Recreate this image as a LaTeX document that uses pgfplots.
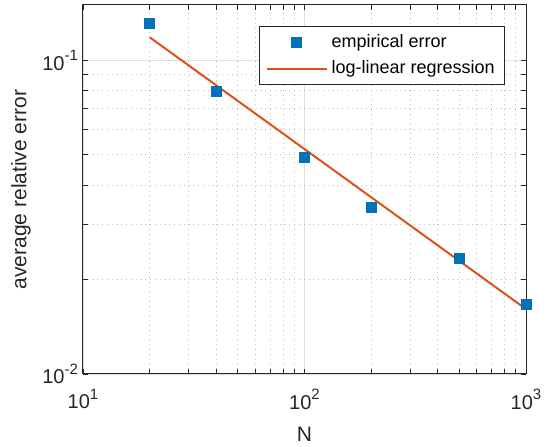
\documentclass[border=0pt]{standalone}
\usepackage{pgfplots}
\pgfplotsset{compat=1.18}
\usepackage{fontspec}
\setmainfont{Liberation Sans}
\usetikzlibrary{calc}

\definecolor{mblue}{RGB}{0,114,189}
\definecolor{morange}{RGB}{217,83,25}
\definecolor{maxis}{RGB}{38,38,38}
\newcommand{\pw}[2]{#1\raisebox{0.9ex}{\fontsize{7.5}{8}\selectfont #2}}

\begin{document}
\begin{tikzpicture}
\begin{loglogaxis}[
  scale only axis,
  width=221.5pt,
  height=184.5pt,
  xmin=10, xmax=1000,
  ymin=0.01, ymax=0.15,
  xtick={10,100,1000},
  xticklabels={\pw{10}{1},\pw{10}{2},\pw{10}{3}},
  ytick={0.01,0.1},
  yticklabels={\pw{10}{-2},\pw{10}{-1}},
  minor xtick={20,30,40,50,60,70,80,90,200,300,400,500,600,700,800,900},
  minor ytick={0.02,0.03,0.04,0.05,0.06,0.07,0.08,0.09},
  tick align=inside,
  major tick length=2.5pt,
  minor tick length=2.5pt,
  axis line style={maxis, line width=0.5pt},
  every tick/.style={maxis, line width=0.4pt},
  grid=both,
  major grid style={gray!25, line width=0.4pt},
  minor grid style={gray!50, dotted, line width=0.4pt},
  tick label style={font=\fontsize{10}{12}\selectfont, text=maxis},
  xticklabel style={yshift=-4pt},
  yticklabel style={xshift=1pt},
  xlabel={N},
  ylabel={average relative error},
  label style={font=\fontsize{10.5}{12}\selectfont, text=maxis},
  xlabel style={yshift=-2pt},
  ylabel style={yshift=-1pt},
  clip=false,
  legend style={at={(0.953,0.943)}, anchor=north east,
    font=\fontsize{9}{10.5}\selectfont, draw=maxis, line width=0.5pt,
    fill=white, inner xsep=3pt, inner ysep=2pt, row sep=1pt,
    cells={anchor=west}},
  legend image code/.code={\draw[mark repeat=2,mark phase=2,#1] plot coordinates {(0pt,0pt) (15pt,0pt) (30pt,0pt)};},
]
\addplot[only marks, mark=square*, mark size=2.5pt, color=mblue]
  coordinates {(20,0.131) (40,0.0797) (100,0.0491) (200,0.0340) (500,0.0234) (1000,0.0167)};
\addlegendentry{empirical error}
\addplot[no marks, line width=1pt, color=morange]
  coordinates {(20,0.1184) (1000,0.0161)};
\addlegendentry{log-linear regression}
\coordinate (sw) at (rel axis cs:0,0);
\coordinate (ne) at (rel axis cs:1,1);
\end{loglogaxis}
\pgfresetboundingbox
\path[use as bounding box] ($(sw)+(-41.5pt,-36.5pt)$) rectangle ($(ne)+(14pt,2.5pt)$);
\end{tikzpicture}
\end{document}
